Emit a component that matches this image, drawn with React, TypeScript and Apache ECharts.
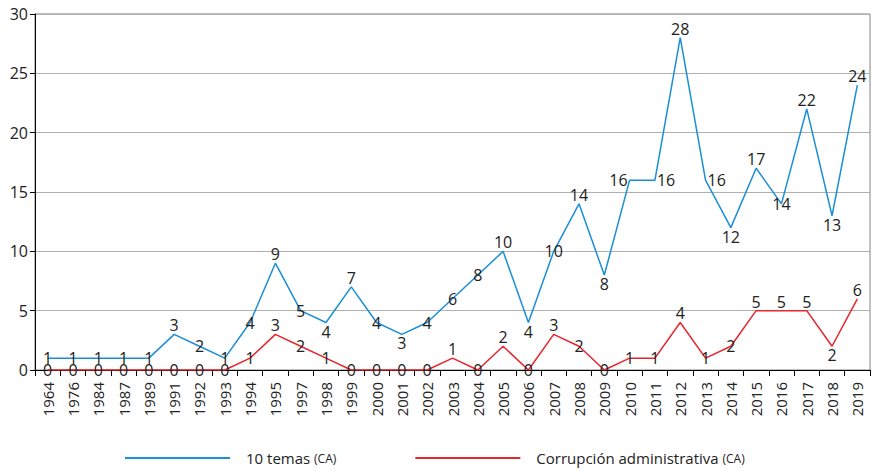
import React, { useEffect, useRef } from "react";
import * as echarts from "echarts";

const years = ["1964","1976","1984","1987","1989","1991","1992","1993","1994","1995","1997","1998","1999","2000","2001","2002","2003","2004","2005","2006","2007","2008","2009","2010","2011","2012","2013","2014","2015","2016","2017","2018","2019"];
const temas = [1,1,1,1,1,3,2,1,4,9,5,4,7,4,3,4,6,8,10,4,10,14,8,16,16,28,16,12,17,14,22,13,24];
const corrupcion = [0,0,0,0,0,0,0,0,1,3,2,1,0,0,0,0,1,0,2,0,3,2,0,1,1,4,1,2,5,5,5,2,6];
// label placement: t=top, b=bottom, c=center, l=left, r=right
const temasPos = ["c","c","c","c","c","t","c","c","c","t","c","b","t","c","b","c","c","c","t","b","c","t","b","l","r","t","r","b","t","c","t","b","t"];
const corrPos = ["c","c","c","c","c","c","c","c","c","t","c","c","c","c","c","c","t","c","t","c","t","c","c","c","c","t","c","c","t","t","t","b","t"];

const labelFor = (p: string, dy: number) => {
  switch (p) {
    case "t": return { show: true, position: "top", distance: 3 };
    case "b": return { show: true, position: "bottom", distance: 3 };
    case "l": return { show: true, position: "left", distance: 2 };
    case "r": return { show: true, position: "right", distance: 2 };
    default: return { show: true, position: "inside", offset: [0, dy] };
  }
};

export default function App() {
  const ref = useRef<HTMLDivElement>(null);
  useEffect(() => {
    const chart = echarts.init(ref.current!, undefined, { renderer: "svg" });
    const font = "'Open Sans', 'Noto Sans', sans-serif";
    const lbl = { show: true, fontSize: 16, lineHeight: 12, color: "#222", fontFamily: font };
    chart.setOption({
      animation: false,
      textStyle: { fontFamily: font },
      grid: { left: 35, right: 3, top: 14, bottom: 101, show: true, borderColor: "#808080", borderWidth: 1 },
      legend: {
        top: 448,
        left: 125,
        padding: 0,
        itemWidth: 105,
        itemHeight: 2,
        itemGap: 79,
        icon: "rect",
        textStyle: {
          fontFamily: font,
          fontSize: 15,
          lineHeight: 20,
          color: "#222",
          padding: [0, 0, 0, 11],
          rich: { s: { fontSize: 12, lineHeight: 20, color: "#222", fontFamily: font } },
        },
        formatter: (name: string) => name.replace(" (CA)", " {s|(CA)}"),
        data: ["10 temas (CA)", "Corrupción administrativa (CA)"],
      },
      xAxis: {
        type: "category",
        data: years,
        boundaryGap: true,
        axisLine: { lineStyle: { color: "#000", width: 1 } },
        axisTick: { show: true, length: 6, lineStyle: { color: "#000" }, alignWithLabel: false },
        axisLabel: { rotate: 90, fontSize: 15, color: "#222", margin: 12, interval: 0, fontFamily: font },
      },
      yAxis: {
        type: "value",
        min: 0,
        max: 30,
        interval: 5,
        axisLine: { show: true, lineStyle: { color: "#000", width: 1 } },
        axisTick: { show: true, length: 5, lineStyle: { color: "#000" } },
        axisLabel: { fontSize: 16, color: "#222", margin: 7, fontFamily: font },
        splitLine: { lineStyle: { color: "#b0b0b0", width: 1 } },
      },
      series: [
        {
          name: "10 temas (CA)",
          type: "line",
          symbol: "circle",
          symbolSize: 0.1,
          showSymbol: true,
          itemStyle: { color: "#1a8fd6" },
          color: "#1a8fd6",
          lineStyle: { color: "#1a8fd6", width: 1.5 },
          label: lbl,
          labelLayout: { hideOverlap: false },
          data: temas.map((v, i) => ({ value: v, label: labelFor(temasPos[i], -3) })),
          z: 3,
        },
        {
          name: "Corrupción administrativa (CA)",
          type: "line",
          symbol: "circle",
          symbolSize: 0.1,
          showSymbol: true,
          itemStyle: { color: "#e8242c" },
          color: "#e8242c",
          lineStyle: { color: "#e8242c", width: 1.5 },
          label: lbl,
          labelLayout: { hideOverlap: false },
          data: corrupcion.map((v, i) => ({ value: v, label: labelFor(corrPos[i], 1) })),
          z: 2,
        },
      ],
    });
    return () => chart.dispose();
  }, []);
  return <div ref={ref} style={{ width: 873, height: 471, position: "absolute", left: 0, top: 0 }} />;
}
